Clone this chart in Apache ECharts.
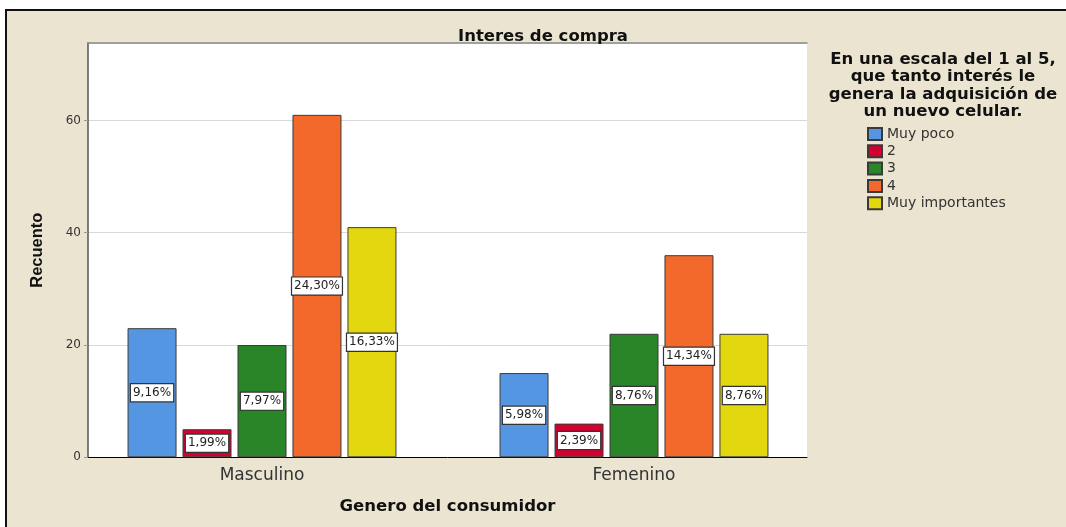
<!DOCTYPE html>
<html>
<head>
<meta charset="utf-8">
<script src="https://cdn.jsdelivr.net/npm/echarts@6/dist/echarts.min.js"></script>
<style>
  html, body { margin: 0; padding: 0; background: #ffffff; width: 1066px; height: 527px; overflow: hidden; }
  #frame { position: absolute; left: 5px; top: 9px; width: 1100px; height: 560px; border-top: 2px solid #111; border-left: 2px solid #111; background: #eae4d0; }
  #chart { position: absolute; left: 0; top: 0; width: 1066px; height: 527px; }
</style>
</head>
<body>
<div id="frame"></div>
<div id="chart"></div>
<script>
// ---- data ----
const categories = ['Masculino', 'Femenino'];
const seriesNames = ['Muy poco', '2', '3', '4', 'Muy importantes'];
const muyPoco = [23, 15];
const dos = [5, 6];
const tres = [20, 22];
const cuatro = [61, 36];
const muyImportantes = [41, 22];
const yTickInterval = 20;
const yMax = 73.8;
const chartTitle = 'Interes de compra';
const legendTitle = 'En una escala del 1 al 5,\nque tanto interés le\ngenera la adquisición de\nun nuevo celular.';
const xName = 'Genero del consumidor';
const yName = 'Recuento';

const seriesValues = [muyPoco, dos, tres, cuatro, muyImportantes];
const colors = ['#5596e3', '#d40030', '#2a8428', '#f3692c', '#e3d80f'];
const total = seriesValues.reduce((s, arr) => s + arr.reduce((a, b) => a + b, 0), 0);
const pct = v => (v / total * 100).toFixed(2).replace('.', ',') + '%';

const FONT = '"DejaVu Sans", sans-serif';

const chart = echarts.init(document.getElementById('chart'), null, { renderer: 'canvas' });

const series = seriesNames.map((name, i) => ({
  name: name,
  type: 'bar',
  xAxisIndex: 2,
  yAxisIndex: 1,
  data: seriesValues[i],
  barWidth: 49,
  barGap: '12.2%',
  itemStyle: { color: colors[i], borderColor: '#3a3a3a', borderWidth: 1 },
  label: {
    show: true,
    position: 'inside',
    formatter: p => pct(p.value),
    color: '#222',
    fontFamily: FONT,
    fontSize: 12,
    backgroundColor: '#ffffff',
    borderColor: '#333',
    borderWidth: 1.2,
    padding: [3, 2, 2, 2]
  },
  emphasis: { disabled: true }
}));

chart.setOption({
  animation: false,
  backgroundColor: 'transparent',
  title: [
    {
      text: chartTitle,
      left: 538, top: 23, textAlign: 'center',
      textStyle: { fontFamily: FONT, fontSize: 16.5, fontWeight: 'bold', color: '#111' }
    },
    {
      text: legendTitle,
      left: 938, top: 46, textAlign: 'center',
      textStyle: { fontFamily: FONT, fontSize: 16.5, fontWeight: 'bold', color: '#111', lineHeight: 17.3, align: 'center' }
    }
  ],
  legend: {
    data: seriesNames,
    orient: 'vertical',
    left: 867, top: 127,
    padding: 0,
    itemWidth: 14, itemHeight: 12, itemGap: 3.3,
    icon: 'rect',
    selectedMode: false,
    textStyle: { fontFamily: FONT, fontSize: 14, color: '#333', padding: [0, 0, 0, 0], lineHeight: 13 }
  },
  grid: [
    { left: 88, top: 43, width: 719, height: 414.3, show: true, backgroundColor: '#ffffff', borderWidth: 0 },
    { left: 76, top: 43, width: 744, height: 414.3 }
  ],
  xAxis: [
    {
      gridIndex: 0, type: 'value', min: 0, max: 1, position: 'bottom',
      axisLine: { show: true, lineStyle: { color: '#000', width: 1 } },
      axisTick: { show: false }, axisLabel: { show: false }, splitLine: { show: false },
      name: xName, nameLocation: 'middle', nameGap: 41,
      nameTextStyle: { fontFamily: FONT, fontSize: 16.5, fontWeight: 'bold', color: '#111' }
    },
    {
      gridIndex: 0, type: 'value', min: 0, max: 1, position: 'top',
      axisLine: { show: true, lineStyle: { color: '#8a8a8a', width: 1.5 } },
      axisTick: { show: false }, axisLabel: { show: false }, splitLine: { show: false }
    },
    {
      gridIndex: 1, type: 'category', data: categories,
      axisLine: { show: false }, axisTick: { show: false },
      axisLabel: { fontFamily: FONT, fontSize: 17, color: '#333', margin: 10 }
    }
  ],
  yAxis: [
    {
      gridIndex: 0, type: 'value', min: 0, max: yMax, interval: yTickInterval,
      axisLine: { show: true, lineStyle: { color: '#555', width: 1.5 } },
      axisTick: { show: true, length: 4, lineStyle: { color: '#999' } },
      axisLabel: { fontFamily: FONT, fontSize: 12, color: '#333', margin: 7, showMaxLabel: false },
      splitLine: { show: true, lineStyle: { color: '#d8d8d8', width: 1 } },
      name: yName, nameLocation: 'middle', nameRotate: 90, nameGap: 42,
      nameTextStyle: { fontFamily: '"Liberation Sans", Arial, sans-serif', fontSize: 16.5, fontWeight: 'bold', color: '#111' }
    },
    {
      gridIndex: 1, type: 'value', min: 0, max: yMax, interval: yTickInterval, show: false,
      splitLine: { show: false }
    }
  ],
  series: series
});
</script>
</body>
</html>
